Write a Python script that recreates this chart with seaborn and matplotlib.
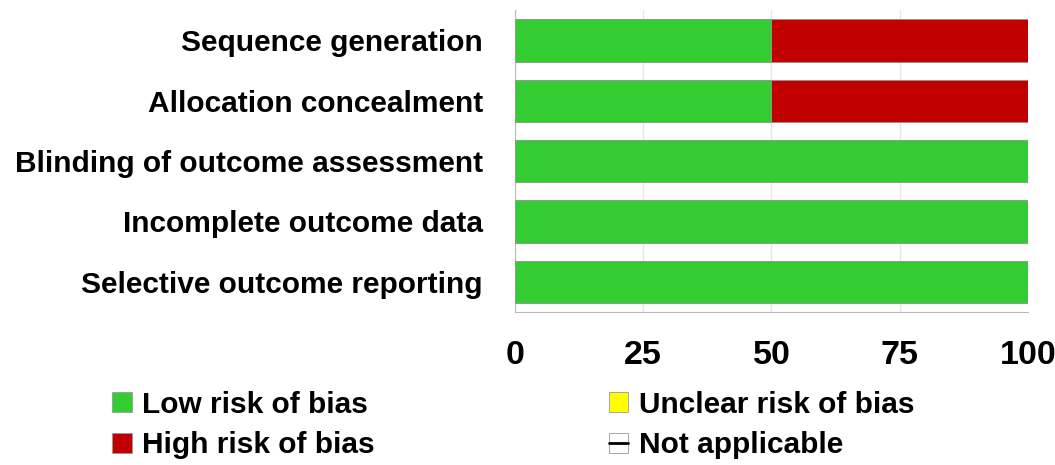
import matplotlib
matplotlib.use("Agg")
import matplotlib.pyplot as plt
from matplotlib.patches import Patch
from matplotlib.lines import Line2D
import pandas as pd
import seaborn as sns

# Data (percent of studies)
domains = ["Sequence generation", "Allocation concealment", "Blinding of outcome assessment",
           "Incomplete outcome data", "Selective outcome reporting"]
low_risk = [50, 50, 100, 100, 100]
high_risk = [50, 50, 0, 0, 0]
unclear_risk = [0, 0, 0, 0, 0]
x_ticks = [0, 25, 50, 75, 100]

GREEN = "#33CC33"
RED = "#C00000"
YELLOW = "#FFFF00"

sns.set_style("white")
plt.rcParams["font.family"] = ["Liberation Sans Narrow", "Liberation Sans", "DejaVu Sans"]
plt.rcParams["font.weight"] = "bold"
plt.rcParams["text.color"] = "black"
plt.rcParams["xtick.color"] = "black"
plt.rcParams["ytick.color"] = "black"

df = pd.DataFrame({"domain": domains, "low": low_risk, "high": high_risk, "unclear": unclear_risk})
df["low_high"] = df["low"] + df["high"]
df["total"] = df["low_high"] + df["unclear"]

fig = plt.figure(figsize=(10.55, 4.65), dpi=100)
ax = fig.add_axes([0.488, 0.329, 0.4864, 0.649])

# stacked bars: draw cumulative totals back to front
for col, c, z in [("total", YELLOW, 2), ("low_high", RED, 3), ("low", GREEN, 4)]:
    sns.barplot(data=df, x=col, y="domain", color=c, width=0.7, orient="h", saturation=1,
                edgecolor="#999999", linewidth=0.6, ax=ax, zorder=z)
# hide zero-width bars
for p in ax.patches:
    if p.get_width() == 0:
        p.set_visible(False)

ax.set_xlim(0, 100)
ax.set_ylim(4.5, -0.5)
ax.set_xticks(x_ticks)
ax.set_xlabel("")
ax.set_ylabel("")
ax.grid(axis="x", color="#E6E6E6", linewidth=1, zorder=0)
ax.set_axisbelow(True)

for s in ["top", "right"]:
    ax.spines[s].set_visible(False)
ax.spines["left"].set_color("#BBBBBB")
ax.spines["bottom"].set_color("#BBBBBB")
ax.tick_params(axis="x", length=8, color="#BBBBBB", labelcolor="black", pad=12, labelsize=24.5)
ax.tick_params(axis="y", length=0, pad=23, labelcolor="black", labelsize=21.5)
for lbl in ax.get_xticklabels() + ax.get_yticklabels():
    lbl.set_fontweight("bold")

handles = [
    Patch(facecolor=GREEN, edgecolor="#999999", linewidth=0.6),
    Patch(facecolor=RED, edgecolor="#999999", linewidth=0.6),
    Patch(facecolor=YELLOW, edgecolor="#999999", linewidth=0.6),
    (Patch(facecolor="white", edgecolor="#999999", linewidth=0.6),
     Line2D([], [], color="black", linewidth=2)),
]
labels = ["Low risk of bias", "High risk of bias", "Unclear risk of bias", "Not applicable"]
fig.legend(handles, labels, ncol=2, loc="upper left", bbox_to_anchor=(0.095, 0.185),
           frameon=False, prop={"size": 21.5, "weight": "bold"},
           handlelength=0.65, handleheight=0.65, handletextpad=0.35,
           columnspacing=7.85, labelspacing=0.42, borderaxespad=0)

fig.savefig("out.png", dpi=100)
